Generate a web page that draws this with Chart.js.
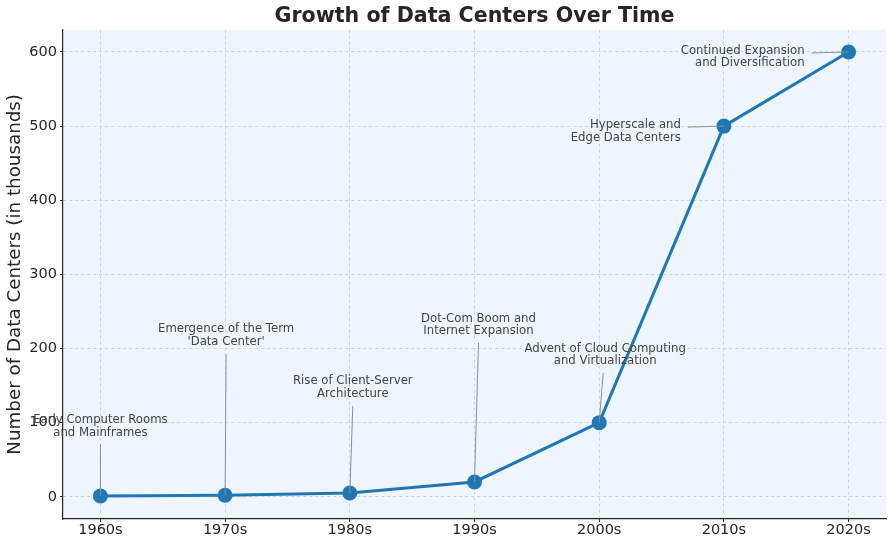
<!DOCTYPE html>
<html>
<head>
<meta charset="utf-8">
<script src="https://cdn.jsdelivr.net/npm/chart.js@4.4.1/dist/chart.umd.min.js"></script>
<style>
    html, body { margin: 0; padding: 0; background: #ffffff; }
    #wrap { width: 888px; height: 537px; }
</style>
</head>
<body>
<div id="wrap"><canvas id="growth-chart"></canvas></div>
<script>
// Chart data
const decades = ['1960s', '1970s', '1980s', '1990s', '2000s', '2010s', '2020s'];
const dataCenters = [1, 2, 5, 20, 100, 500, 600];
const milestones = [
    ['Early Computer Rooms', 'and Mainframes'],
    ['Emergence of the Term', "'Data Center'"],
    ['Rise of Client-Server', 'Architecture'],
    ['Dot-Com Boom and', 'Internet Expansion'],
    ['Advent of Cloud Computing', 'and Virtualization'],
    ['Hyperscale and', 'Edge Data Centers'],
    ['Continued Expansion', 'and Diversification']
];
const yTicks = [0, 100, 200, 300, 400, 500, 600];

// Label placement in pixels, relative to each point
const labelLayout = [
    { dx: 0,   dy: -76,  align: 'center', lx: 0,   ly: -52 },
    { dx: 1,   dy: -166, align: 'center', lx: 1,   ly: -141 },
    { dx: 3,   dy: -112, align: 'center', lx: 3,   ly: -87 },
    { dx: 4,   dy: -163, align: 'center', lx: 4,   ly: -139 },
    { dx: 6,   dy: -74,  align: 'center', lx: 4,   ly: -50 },
    { dx: -43, dy: -1,   align: 'right',  lx: -36, ly: 1 },
    { dx: -44, dy: -1,   align: 'right',  lx: -37, ly: 1 }
];

const FONT = "'DejaVu Sans', sans-serif";

// Light blue plot background
const plotBackground = {
    id: 'plotBackground',
    beforeDraw(chart) {
        const { ctx, chartArea } = chart;
        ctx.save();
        ctx.fillStyle = '#eef5fc';
        ctx.fillRect(chartArea.left, chartArea.top, chartArea.right - chartArea.left, chartArea.bottom - chartArea.top);
        ctx.restore();
    }
};

// Milestone annotations with connector lines
const milestoneLabels = {
    id: 'milestoneLabels',
    afterDatasetsDraw(chart) {
        const { ctx } = chart;
        const meta = chart.getDatasetMeta(0);
        ctx.save();
        meta.data.forEach((pt, i) => {
            const lay = labelLayout[i];
            ctx.strokeStyle = '#8e8e8e';
            ctx.lineWidth = 1;
            ctx.beginPath();
            ctx.moveTo(pt.x + lay.lx, pt.y + lay.ly);
            ctx.lineTo(pt.x, pt.y);
            ctx.stroke();

            ctx.fillStyle = '#444444';
            ctx.font = '11.7px ' + FONT;
            ctx.textAlign = lay.align;
            ctx.textBaseline = 'middle';
            milestones[i].forEach((line, j) => {
                ctx.fillText(line, pt.x + lay.dx, pt.y + lay.dy + j * 12.5);
            });
        });
        ctx.restore();
    }
};

const ctx = document.getElementById('growth-chart').getContext('2d');

new Chart(ctx, {
    type: 'line',
    data: {
        datasets: [{
            label: 'Data Centers',
            data: dataCenters.map((v, i) => ({ x: i, y: v })),
            borderColor: '#1f77b4',
            backgroundColor: '#1f77b4',
            borderWidth: 3,
            pointRadius: 7.5,
            pointHoverRadius: 7.5,
            pointBorderWidth: 0,
            tension: 0
        }]
    },
    options: {
        responsive: true,
        maintainAspectRatio: false,
        animation: false,
        layout: { autoPadding: false, padding: { left: 0, right: 2, top: 0, bottom: 0 } },
        plugins: {
            legend: { display: false },
            tooltip: { enabled: false },
            title: {
                display: true,
                fullSize: false,
                text: 'Growth of Data Centers Over Time',
                color: '#262626',
                font: { family: FONT, size: 20.6, weight: 'bold' },
                padding: { top: 4, bottom: 1 }
            }
        },
        scales: {
            x: {
                type: 'linear',
                min: -0.3,
                max: 6.3,
                afterFit(scale) {
                    scale.height = 18;
                    scale.paddingLeft = 0;
                    scale.paddingRight = 0;
                },
                afterBuildTicks(scale) {
                    scale.ticks = decades.map((d, i) => ({ value: i }));
                },
                ticks: {
                    includeBounds: false,
                    padding: 0,
                    color: '#262626',
                    font: { family: FONT, size: 14.5 },
                    callback: (value) => decades[value] || ''
                },
                grid: { color: '#d0d4d8', drawTicks: true, tickLength: 3, tickColor: '#262626', tickWidth: 1 },
                border: { display: true, color: '#262626', width: 1.2, dash: [3, 3] }
            },
            y: {
                min: -30,
                max: 630,
                afterFit(scale) {
                    scale.width = 63;
                    scale.paddingTop = 0;
                    scale.paddingBottom = 0;
                },
                afterBuildTicks(scale) {
                    scale.ticks = yTicks.map(v => ({ value: v }));
                },
                ticks: {
                    includeBounds: false,
                    padding: 3,
                    color: '#262626',
                    font: { family: FONT, size: 14.5 }
                },
                title: {
                    display: true,
                    text: 'Number of Data Centers (in thousands)',
                    color: '#262626',
                    font: { family: FONT, size: 18.3 },
                    padding: { top: 4, bottom: 0 }
                },
                grid: { color: '#d0d4d8', drawTicks: true, tickLength: 3, tickColor: '#262626', tickWidth: 1 },
                border: { display: true, color: '#262626', width: 1.2, dash: [3, 3] }
            }
        }
    },
    plugins: [plotBackground, milestoneLabels]
});
</script>
</body>
</html>
